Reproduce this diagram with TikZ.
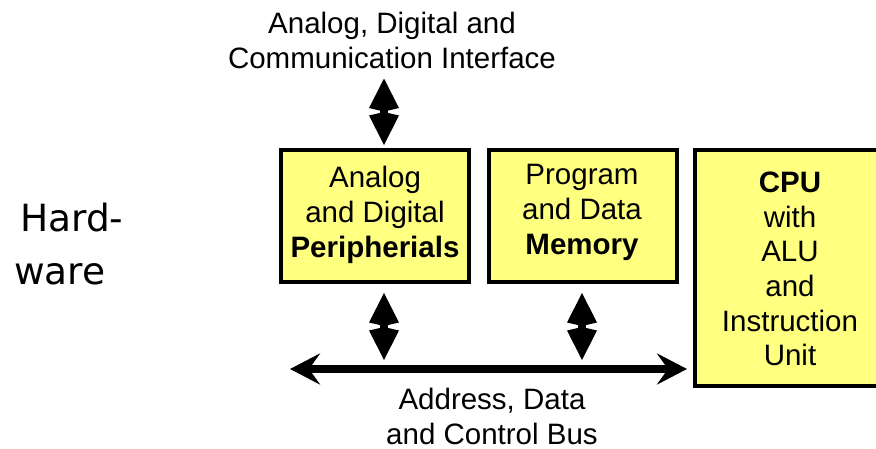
\documentclass[tikz,border=0pt]{standalone}
\usepackage{fontspec}
\setmainfont{Liberation Sans}
\newfontfamily\dejavu{DejaVu Sans}
\usetikzlibrary{arrows.meta}
\definecolor{boxyellow}{HTML}{FFFF80}

\begin{document}
\begin{tikzpicture}[x=1pt,y=-1pt,
  lbl/.style={font=\fontsize{29.5}{35}\selectfont, align=center, inner sep=0pt},
  sidelbl/.style={font=\dejavu\fontsize{37.5}{44}\selectfont, inner sep=0pt, anchor=base west},
  unitbox/.style={draw=black, line width=4pt, fill=boxyellow, inner sep=0pt},
  vhead/.tip={Kite[length=33pt,width=30pt,inset=3.5pt]},
  hhead/.tip={Stealth[length=30pt,width=31pt,inset=11pt]},
  bidir/.style={line width=8pt, vhead-vhead},
  busarrow/.style={line width=8pt, hhead-hhead}]
\useasboundingbox (0,0) rectangle (876,449);

% functional blocks
\node[unitbox, minimum width=188pt, minimum height=132pt] (per) at (375,216) {};
\node[unitbox, minimum width=188pt, minimum height=132pt] (mem) at (583,216) {};
\node[unitbox, minimum width=194pt, minimum height=236pt] (cpu) at (792,268) {};

% block captions
\node[lbl] (pertxt) at (375,215) {Analog\\and Digital\\\textbf{Peripherials}};
\node[lbl] (memtxt) at (582,212.5) {Program\\and Data\\\textbf{Memory}};
\node[lbl, font=\fontsize{29.5}{34.6}\selectfont] (cputxt) at (790,269) {\textbf{CPU}\\with\\ALU\\and\\Instruction\\Unit};

% outside labels
\node[lbl] (iface) at (392,40) {Analog, Digital and\\Communication Interface};
\node[lbl] (buslbl) at (492,416) {Address, Data\\and Control Bus};
\node[sidelbl] (hw1) at (20,232) {Hard-};
\node[sidelbl] (hw2) at (14,284) {ware};

% columns of the vertical links and the bus line
\coordinate (colA) at (384,0);
\coordinate (colB) at (582,0);
\coordinate (busL) at (290,369);

% connectors
\draw[bidir, shorten <=10pt, shorten >=3pt] (iface.south -| colA) -- (per.north -| colA);
\draw[bidir, shorten <=9pt, shorten >=9pt] (per.south -| colA) -- (busL -| colA);
\draw[bidir, shorten <=9pt, shorten >=9pt] (mem.south -| colB) -- (busL -| colB);
\draw[busarrow, shorten >=6pt] (busL) -- (cpu.west |- busL);
\end{tikzpicture}
\end{document}
